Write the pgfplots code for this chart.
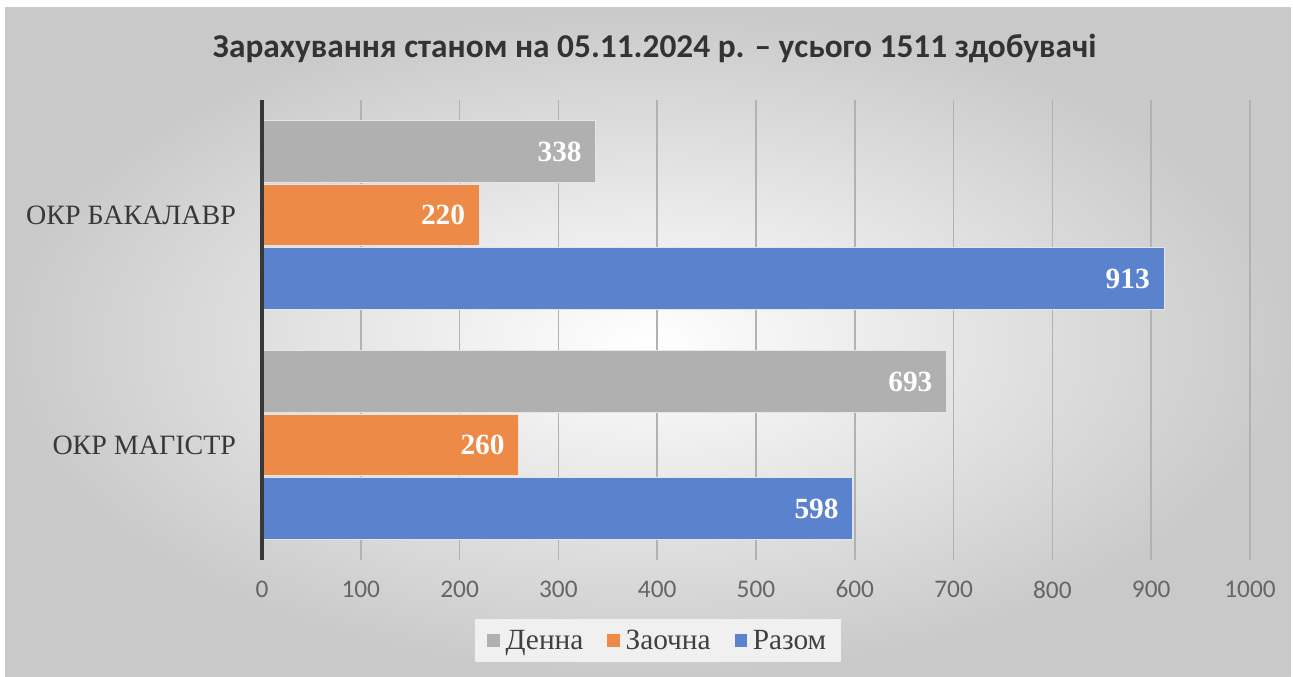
\documentclass[border=0pt]{standalone}
\usepackage{pgfplots}
\pgfplotsset{compat=1.18}
\usepackage{fontspec}
\setmainfont{Liberation Serif}
\newfontfamily\carlito{Carlito}
\definecolor{cgray}{HTML}{B0B0B0}
\definecolor{corange}{HTML}{EE8A48}
\definecolor{cblue}{HTML}{5B82CC}
\begin{document}
\begin{tikzpicture}
\useasboundingbox (0,0) rectangle (969.75pt,-507.75pt);
\fill[white] (0,0) rectangle (969.75pt,-507.75pt);
\shade[inner color=white, outer color=gray!42] (3.75pt,-6pt) rectangle (968pt,-507.75pt);
\node[font=\carlito\bfseries\fontsize{25}{29}\selectfont, text=black!80] at (491pt,-36pt) {Зарахування станом на 05.11.2024 р. – усього 1511 здобувачі};
\begin{axis}[
  at={(196.5pt,-75pt)}, anchor=north west,
  width=741pt, height=345pt, scale only axis,
  xbar,
  xmin=0, xmax=1000, ymin=-0.5, ymax=1.5,
  xtick={0,100,...,1000}, ytick={0,1},
  yticklabels={ОКР МАГІСТР, ОКР БАКАЛАВР},
  xmajorgrids, ymajorgrids=false,
  major grid style={color=black!30, line width=1.1pt},
  axis y line*=left, axis x line*=bottom,
  x axis line style={draw=none},
  y axis line style={draw=none},
  major tick length=0pt,
  xticklabel style={font=\carlito\fontsize{19}{22}\selectfont, text=black!60, yshift=-12pt},
  yticklabel style={font=\fontsize{21}{24}\selectfont, text=black!78, xshift=-16pt},
  /pgf/number format/assume math mode=true,
  /pgf/number format/1000 sep={},
  bar width=0.266,
  nodes near coords,
  nodes near coords style={anchor=east, xshift=-7pt, text=white, font=\bfseries\fontsize{22}{26}\selectfont},
  legend style={at={(0.401,-0.175)}, anchor=center, legend columns=3, draw=none, fill=black!6,
    font=\fontsize{22}{25}\selectfont, text=black!75, inner xsep=9pt, inner ysep=6pt,
    /tikz/every odd column/.append style={column sep=2pt},
    /tikz/every even column/.append style={column sep=16pt}},
  legend image code/.code={\fill[#1,draw=none] (0pt,-4.8pt) rectangle (9.6pt,4.8pt);},
  clip=false,
]
\addplot[fill=cgray, draw=white!90!black, line width=0.8pt, bar shift=0.276] coordinates {(338,1) (693,0)};
\addplot[fill=corange, draw=white!90!black, line width=0.8pt, bar shift=0] coordinates {(220,1) (260,0)};
\addplot[fill=cblue, draw=white!90!black, line width=0.8pt, bar shift=-0.276] coordinates {(913,1) (598,0)};
\legend{Денна, Заочна, Разом}
\draw[black!78, line width=3pt] (rel axis cs:0,0) -- (rel axis cs:0,1);
\end{axis}
\end{tikzpicture}
\end{document}
